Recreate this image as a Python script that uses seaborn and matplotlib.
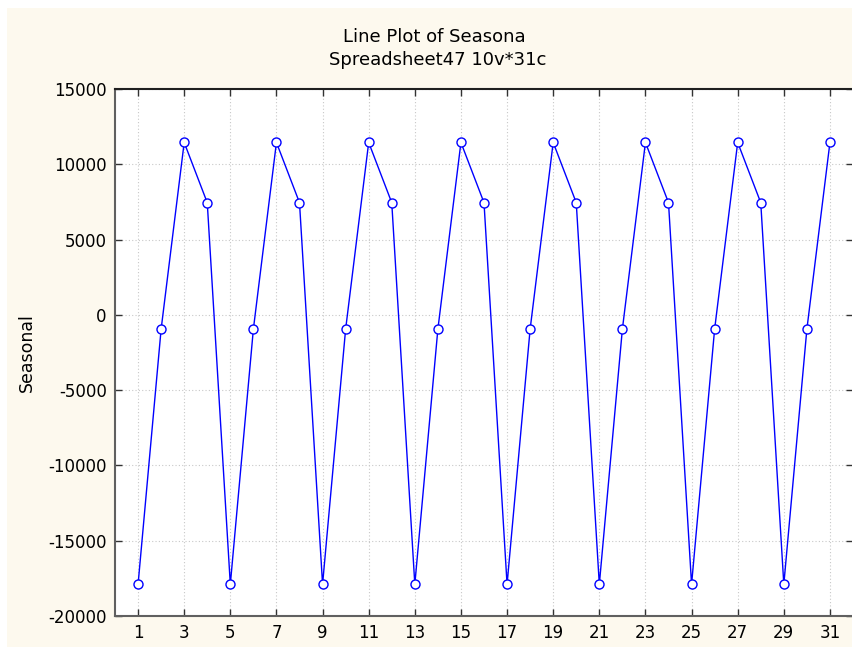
import matplotlib
matplotlib.use("Agg")
import matplotlib.pyplot as plt
import seaborn as sns
import pandas as pd
from matplotlib.patches import Rectangle

# Data
cases = list(range(1, 32))
seasonal = [-17900, -950, 11450, 7450, -17900, -950, 11450, 7450,
            -17900, -950, 11450, 7450, -17900, -950, 11450, 7450,
            -17900, -950, 11450, 7450, -17900, -950, 11450, 7450,
            -17900, -950, 11450, 7450, -17900, -950, 11450]
xticks = list(range(1, 32, 2))
yticks = list(range(-20000, 15001, 5000))
title1 = "Line Plot of Seasona"
title2 = "Spreadsheet47 10v*31c"

df = pd.DataFrame({"case": cases, "Seasonal": seasonal})

sns.set_style("white")
plt.rcParams['font.family'] = ['DejaVu Sans']
plt.rcParams['text.color'] = 'black'
plt.rcParams['xtick.color'] = '#333333'
plt.rcParams['ytick.color'] = '#333333'
plt.rcParams['xtick.labelcolor'] = 'black'
plt.rcParams['ytick.labelcolor'] = 'black'
plt.rcParams['axes.labelcolor'] = 'black'

fig = plt.figure(figsize=(8.53, 6.49), dpi=100)
fig.patch.set_facecolor("white")
bg = Rectangle((7 / 853, 2 / 649), 1.0, (649 - 10) / 649,
               transform=fig.transFigure, facecolor="#fdf9ee", edgecolor="none", zorder=-10)
fig.patches.append(bg)

ax = fig.add_axes([115 / 853, 33 / 649, 1 - 115 / 853, (616 - 89) / 649])
ax.set_zorder(1)
ax.set_facecolor("white")

sns.lineplot(data=df, x="case", y="Seasonal", ax=ax, color="#0000ff", linewidth=1.0,
             marker="o", markersize=6.5, markerfacecolor="white",
             markeredgecolor="#0000ff", markeredgewidth=1.0)

ax.set_xlim(0, 32)
ax.set_ylim(-20000, 15000)
ax.set_xticks(xticks)
ax.set_yticks(yticks)
ax.set_xticklabels([str(t) for t in xticks], fontsize=12)
ax.set_yticklabels([str(t) for t in yticks], fontsize=12)
ax.set_xlabel("")
ax.set_ylabel("Seasonal", fontsize=12.5, labelpad=9)

ax.grid(True, linestyle=(0, (1, 2)), color="#c8c8c8", linewidth=0.8)
ax.tick_params(axis="both", direction="in", length=5, width=1,
               top=True, right=True, bottom=True, left=True, pad=6)

for side in ["left", "bottom"]:
    ax.spines[side].set_color("#606060")
    ax.spines[side].set_linewidth(1.5)
ax.spines["top"].set_color("#202020")
ax.spines["top"].set_linewidth(1.5)
ax.spines["right"].set_visible(False)

fig.text(434 / 853, 1 - 37 / 649, title1, ha="center", va="center", fontsize=13)
fig.text(438 / 853, 1 - 60 / 649, title2, ha="center", va="center", fontsize=13)

fig.savefig("out.png", dpi=100, facecolor=fig.get_facecolor())
